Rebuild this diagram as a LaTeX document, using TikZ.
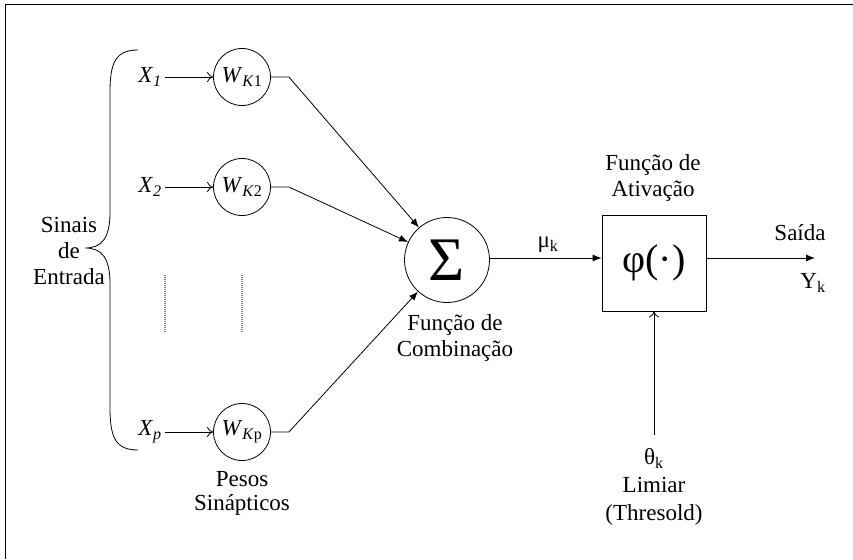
\documentclass[tikz,border=0pt]{standalone}
\usepackage{fontspec}
\setmainfont{Liberation Serif}
\usetikzlibrary{arrows.meta,positioning}

\tikzset{
  peso/.style={circle,draw,minimum size=57pt,inner sep=0pt},
  soma/.style={circle,draw,minimum size=85pt,inner sep=0pt},
  ativ/.style={rectangle,draw,minimum width=104pt,minimum height=96pt,inner sep=0pt},
  sinal/.style={inner sep=3pt},
  rotulo/.style={align=center,inner sep=0pt},
  cheia/.style={-{Latex[length=9pt,width=7pt]}},
  aberta/.style={-{To[length=6pt,width=10pt]}}
}

\begin{document}
\begin{tikzpicture}[x=1pt,y=-1pt,line width=0.8pt,
    font=\fontsize{23}{26}\selectfont]
  \useasboundingbox (0,0) rectangle (853,559);
  \draw (5,559) -- (5,4) -- (853,4);

  % entradas e pesos
  \node[sinal] (x1) at (150,77)  {\textit{X}\textsubscript{\textit{1}}};
  \node[sinal] (x2) at (150,187) {\textit{X}\textsubscript{\textit{2}}};
  \node[sinal] (xp) at (150,432) {\textit{X}\textsubscript{\textit{p}}};
  \node[peso] (w1) at (242,77)  {\textit{W}\textsubscript{\textit{K}1}};
  \node[peso] (w2) at (242,187) {\textit{W}\textsubscript{\textit{K}2}};
  \node[peso] (wp) at (242,432) {\textit{W}\textsubscript{\textit{K}p}};

  \draw (138,50) .. controls (116,50) and (110,62) .. (110,92) -- (110,212)
        .. controls (110,238) and (102,248) .. (85,248)
        .. controls (102,248) and (110,258) .. (110,284) -- (110,408)
        .. controls (110,438) and (116,450) .. (138,450);
  \node[rotulo] (entrada) at (69,251) {Sinais\\de\\Entrada};

  \draw[gray,line width=1.4pt,dash pattern=on 1pt off 1pt] (165,275) -- (165,332);
  \draw[gray,line width=1.4pt,dash pattern=on 1pt off 1pt] (242,275) -- (242,332);

  \node[rotulo] (pesos) [below=10pt of wp,font=\fontsize{23}{24}\selectfont] {Pesos\\Sinápticos};

  % combinacao e ativacao
  \node[soma] (sum) at (447,260) {\fontsize{62}{62}\selectfont Σ};
  \node[rotulo] (tcomb) at (455,338) {Função de\\Combinação};

  \node[ativ] (phi) at (654,263) {\fontsize{40}{40}\selectfont φ(·)};
  \node[rotulo] (tativ) at (653,178) {Função de\\Ativação};

  \coordinate (saida) at (815,258);
  \coordinate (lim) at (654,435);
  \node[rotulo] (mu) at (548,245) {μ\textsubscript{k}};
  \node[rotulo] (tsaida) at (800,233) {Saída};
  \node[rotulo] (yk) at (813,283) {Y\textsubscript{k}};
  \node[rotulo,font=\fontsize{23}{28}\selectfont] (teta) at (654,487) {θ\textsubscript{k}\\Limiar\\(Thresold)};

  \path[aberta]
    (x1) edge (w1)
    (x2) edge (w2)
    (xp) edge (wp)
    (lim) edge (phi.south);
  \draw[cheia] (w1.east) -- ++(18,0) -- (sum);
  \draw[cheia] (w2.east) -- ++(18,0) -- (sum);
  \draw[cheia] (wp.east) -- ++(18,0) -- (sum);
  \draw[cheia] (sum.east |- 0,258) -- (phi.west |- 0,258);
  \draw[cheia] (phi.east |- saida) -- (saida);
\end{tikzpicture}
\end{document}
